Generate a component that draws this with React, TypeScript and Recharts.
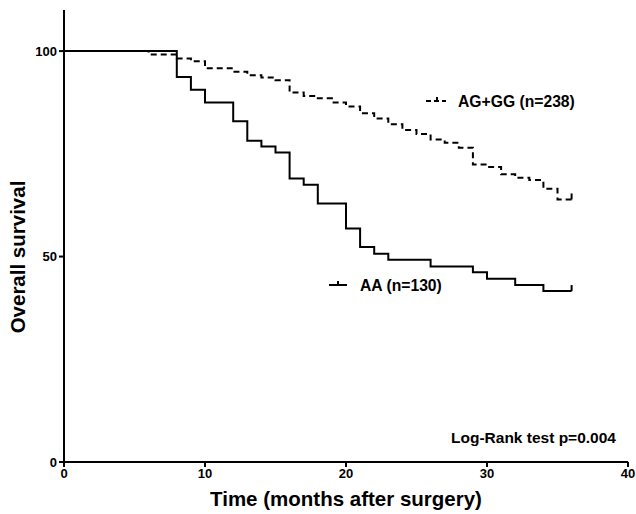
import { LineChart, Line, XAxis, YAxis, Customized } from "recharts";

// Kaplan-Meier steps
const aaTime = [0, 8, 9, 10, 12, 13, 14, 15, 16, 17, 18, 20, 21, 22, 23, 26, 29, 30, 32, 34, 36];
const aaSurv = [100, 93.7, 90.6, 87.5, 82.9, 78.2, 76.8, 75.3, 69.0, 67.5, 62.9, 56.8, 52.3, 50.7, 49.2, 47.6, 46.2, 44.6, 43.1, 41.6, 41.6];

const agTime = [0, 6, 8, 9, 10, 12, 13, 14, 15, 16, 17, 18, 19, 20, 21, 22, 23, 24, 25, 26, 27, 28, 29, 30, 31, 32, 33, 34, 35, 36];
const agSurv = [100, 99.2, 98.2, 97.5, 95.8, 95.0, 94.1, 93.6, 92.9, 89.9, 89.1, 88.5, 87.5, 86.5, 84.9, 83.6, 82.2, 80.8, 79.8, 78.5, 77.7, 76.5, 72.4, 71.8, 70.0, 69.2, 68.6, 66.5, 63.9, 63.9];

const xTicks = [0, 10, 20, 30, 40];
const yTicks = [0, 50, 100];

const aaLabel = "AA (n=130)";
const agLabel = "AG+GG (n=238)";
const pText = "Log-Rank test p=0.004";
const yTitle = "Overall survival";

const toRows = (t: number[], s: number[]) => t.map((v, i) => ({ t: v, s: s[i] }));
const aaData = toRows(aaTime, aaSurv);
const agData = toRows(agTime, agSurv);

const FONT = "'Liberation Sans', Arial, sans-serif";

const endTick = (n: number) => (props: any) => {
  const { cx, cy, index } = props;
  if (index !== n - 1) return <g key={index} />;
  return <line key={index} x1={cx} y1={cy} x2={cx} y2={cy - 6} stroke="#000" strokeWidth={2} />;
};

const Annotations = () => (
  <g fontFamily={FONT} fontWeight="bold" fill="#000">
    <line x1={426} y1={101} x2={446} y2={101} stroke="#000" strokeWidth={2} strokeDasharray="5 3" />
    <line x1={437} y1={101} x2={437} y2={97} stroke="#000" strokeWidth={2} />
    <text x={458} y={106.5} fontSize={15.7}>{agLabel}</text>
    <line x1={329} y1={285} x2={347} y2={285} stroke="#000" strokeWidth={2} />
    <line x1={338} y1={285} x2={338} y2={281} stroke="#000" strokeWidth={2} />
    <text x={360} y={290.5} fontSize={15.7}>{aaLabel}</text>
    <text x={451} y={442.5} fontSize={15.5}>{pText}</text>
    <text
      x={0}
      y={0}
      transform="translate(25,257) rotate(-90)"
      textAnchor="middle"
      fontSize={20.5}
    >
      {yTitle}
    </text>
  </g>
);

export default function App() {
  return (
    <div style={{ position: "absolute", left: 0, top: 0, background: "#fff" }}>
      <LineChart width={636} height={514} margin={{ top: 10, right: 8, left: 0, bottom: 0 }}>
        <XAxis
          type="number"
          dataKey="t"
          domain={[0, 40]}
          ticks={xTicks}
          height={52}
          stroke="#000"
          strokeWidth={2}
          tickSize={5}
          tick={{ fill: "#000", fontSize: 13, fontWeight: "bold", fontFamily: FONT }}
          label={{ value: "Time (months after surgery)", position: "insideBottom", offset: 8, fill: "#000", fontSize: 20.5, fontWeight: "bold", fontFamily: FONT }}
        />
        <YAxis
          type="number"
          dataKey="s"
          domain={[0, 110]}
          ticks={yTicks}
          width={64}
          stroke="#000"
          strokeWidth={2}
          tickSize={5}
          tick={{ fill: "#000", fontSize: 13, fontWeight: "bold", fontFamily: FONT }}
        />
        <Line
          data={agData}
          dataKey="s"
          type="stepAfter"
          stroke="#000"
          strokeWidth={2}
          strokeDasharray="6 4"
          dot={endTick(agData.length)}
          activeDot={false}
          isAnimationActive={false}
        />
        <Line
          data={aaData}
          dataKey="s"
          type="stepAfter"
          stroke="#000"
          strokeWidth={2}
          dot={endTick(aaData.length)}
          activeDot={false}
          isAnimationActive={false}
        />
        <Customized component={Annotations} />
      </LineChart>
    </div>
  );
}
